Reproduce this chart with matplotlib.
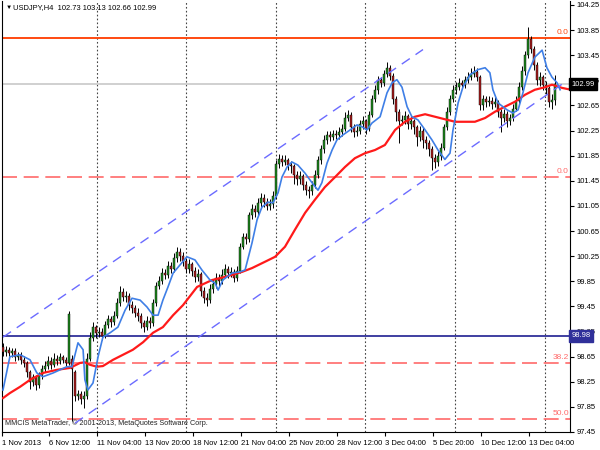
import numpy as np
import matplotlib.pyplot as plt

plt.rcParams['font.family'] = ['Liberation Sans', 'DejaVu Sans']

# USDJPY H4 - one value per bar (bar index = position on the x axis)
opens = [98.80, 98.72, 98.76, 98.70, 98.74, 98.64, 98.68, 98.60, 98.55, 98.40,
         98.25, 98.32, 98.20, 98.35, 98.45, 98.50, 98.58, 98.52, 98.62, 98.58,
         98.64, 98.60, 98.55, 98.62, 98.40, 98.02, 98.05, 97.98, 98.02, 98.62,
         98.95, 99.12, 99.02, 99.05, 98.98, 99.15, 99.25, 99.20, 99.30, 99.50,
         99.68, 99.60, 99.62, 99.48, 99.42, 99.35, 99.30, 99.18, 99.12, 99.22,
         99.18, 99.50, 99.78, 99.85, 99.98, 99.95, 100.10, 100.05, 100.22, 100.32,
         100.25, 100.18, 100.05, 100.12, 100.02, 99.92, 99.96, 99.70, 99.58, 99.55,
         99.72, 99.80, 99.90, 99.85, 99.95, 100.05, 99.98, 100.00, 99.90, 100.02,
         100.40, 100.55, 100.52, 100.90, 101.00, 100.95, 101.10, 101.18, 101.12, 101.05,
         101.08, 101.20, 101.72, 101.80, 101.75, 101.78, 101.70, 101.68, 101.55, 101.48,
         101.52, 101.38, 101.30, 101.28, 101.38, 101.55, 101.78, 101.95, 102.10, 102.18,
         102.15, 102.20, 102.18, 102.22, 102.28, 102.45, 102.50, 102.30, 102.22, 102.25,
         102.35, 102.40, 102.28, 102.50, 102.75, 102.90, 103.05, 103.00, 103.15, 103.25,
         103.12, 102.75, 102.55, 102.40, 102.42, 102.48, 102.35, 102.40, 102.30, 102.15,
         102.25, 102.10, 102.05, 101.95, 101.82, 101.75, 101.85, 101.98, 102.30, 102.55,
         102.75, 102.90, 102.95, 103.00, 102.98, 103.05, 103.10, 103.15, 103.18, 103.10,
         102.65, 102.75, 102.70, 102.72, 102.68, 102.70, 102.55, 102.45, 102.52, 102.40,
         102.45, 102.60, 102.72, 102.95, 103.20, 103.45, 103.70, 103.55, 103.30, 103.05,
         103.10, 102.98, 102.92, 102.70, 102.73]
highs = [98.86, 98.82, 98.80, 98.79, 98.78, 98.73, 98.72, 98.66, 98.58, 98.44,
         98.38, 98.36, 98.40, 98.52, 98.58, 98.66, 98.64, 98.70, 98.68, 98.70,
         98.68, 98.64, 99.37, 98.68, 98.44, 98.12, 98.10, 98.10, 98.70, 99.05,
         99.20, 99.16, 99.12, 99.10, 99.22, 99.32, 99.30, 99.38, 99.58, 99.78,
         99.74, 99.70, 99.66, 99.54, 99.48, 99.42, 99.34, 99.24, 99.30, 99.28,
         99.56, 99.84, 99.94, 100.06, 100.04, 100.18, 100.16, 100.30, 100.40, 100.38,
         100.32, 100.22, 100.20, 100.16, 100.08, 100.04, 100.00, 99.76, 99.66, 99.80,
         99.88, 99.98, 99.96, 100.04, 100.12, 100.10, 100.08, 100.05, 100.10, 100.46,
         100.62, 100.62, 100.96, 101.08, 101.06, 101.18, 101.26, 101.24, 101.18, 101.16,
         101.28, 101.78, 101.88, 101.86, 101.86, 101.82, 101.76, 101.72, 101.60, 101.60,
         101.56, 101.44, 101.36, 101.44, 101.62, 101.84, 102.02, 102.18, 102.24, 102.24,
         102.26, 102.26, 102.30, 102.36, 102.54, 102.58, 102.54, 102.36, 102.32, 102.42,
         102.48, 102.44, 102.56, 102.82, 102.98, 103.12, 103.10, 103.22, 103.34, 103.30,
         103.16, 102.80, 102.60, 102.50, 102.56, 102.52, 102.48, 102.44, 102.34, 102.32,
         102.30, 102.16, 102.10, 102.00, 101.88, 101.92, 102.05, 102.36, 102.62, 102.82,
         102.98, 103.02, 103.08, 103.06, 103.12, 103.18, 103.24, 103.28, 103.24, 103.14,
         102.82, 102.80, 102.80, 102.78, 102.78, 102.74, 102.60, 102.60, 102.56, 102.52,
         102.68, 102.80, 103.02, 103.28, 103.52, 103.90, 103.76, 103.60, 103.34, 103.18,
         103.14, 103.04, 102.96, 102.84, 103.13]
lows = [98.66, 98.66, 98.64, 98.65, 98.58, 98.60, 98.54, 98.48, 98.32, 98.14,
        98.18, 98.12, 98.15, 98.30, 98.40, 98.46, 98.46, 98.48, 98.52, 98.54,
        98.55, 98.50, 98.52, 97.62, 97.95, 97.96, 97.90, 97.84, 97.98, 98.58,
        98.90, 98.94, 98.96, 98.92, 98.94, 99.10, 99.12, 99.16, 99.26, 99.46,
        99.54, 99.52, 99.40, 99.34, 99.28, 99.22, 99.10, 99.04, 99.08, 99.10,
        99.14, 99.46, 99.72, 99.80, 99.88, 99.90, 99.98, 100.00, 100.16, 100.18,
        100.10, 99.98, 99.98, 99.94, 99.84, 99.86, 99.62, 99.50, 99.45, 99.50,
        99.66, 99.74, 99.78, 99.80, 99.90, 99.90, 99.92, 99.84, 99.86, 99.98,
        100.36, 100.44, 100.48, 100.84, 100.88, 100.90, 101.04, 101.04, 100.98, 100.98,
        101.02, 101.16, 101.66, 101.68, 101.70, 101.62, 101.58, 101.40, 101.38, 101.40,
        101.30, 101.22, 101.18, 101.22, 101.34, 101.50, 101.72, 101.90, 102.04, 102.08,
        102.10, 102.12, 102.12, 102.16, 102.24, 102.40, 102.22, 102.14, 102.16, 102.20,
        102.28, 102.20, 102.24, 102.46, 102.70, 102.84, 102.94, 102.96, 103.10, 103.06,
        102.68, 102.40, 102.05, 102.34, 102.36, 102.28, 102.28, 102.20, 102.00, 102.08,
        101.98, 101.95, 101.85, 101.62, 101.66, 101.68, 101.78, 101.94, 102.26, 102.50,
        102.70, 102.84, 102.90, 102.92, 102.92, 103.00, 103.06, 103.10, 103.04, 102.58,
        102.58, 102.62, 102.64, 102.60, 102.62, 102.46, 102.22, 102.38, 102.30, 102.34,
        102.40, 102.56, 102.68, 102.90, 103.14, 103.40, 103.48, 103.22, 102.98, 102.96,
        102.90, 102.84, 102.62, 102.60, 102.66]
closes = [98.72, 98.76, 98.70, 98.74, 98.64, 98.68, 98.60, 98.55, 98.40, 98.25,
          98.32, 98.20, 98.35, 98.45, 98.50, 98.58, 98.52, 98.62, 98.58, 98.64,
          98.60, 98.55, 99.33, 98.45, 98.02, 98.05, 97.98, 98.02, 98.62, 98.95,
          99.12, 99.02, 99.05, 98.98, 99.15, 99.25, 99.20, 99.30, 99.50, 99.68,
          99.60, 99.62, 99.48, 99.42, 99.35, 99.30, 99.18, 99.12, 99.22, 99.18,
          99.50, 99.78, 99.85, 99.98, 99.95, 100.10, 100.05, 100.22, 100.32, 100.25,
          100.18, 100.05, 100.12, 100.02, 99.92, 99.96, 99.70, 99.58, 99.55, 99.72,
          99.80, 99.90, 99.85, 99.95, 100.05, 99.98, 100.00, 99.90, 100.02, 100.40,
          100.55, 100.52, 100.90, 101.00, 100.95, 101.10, 101.18, 101.12, 101.05, 101.08,
          101.20, 101.72, 101.80, 101.75, 101.78, 101.70, 101.68, 101.55, 101.48, 101.52,
          101.38, 101.30, 101.28, 101.38, 101.55, 101.78, 101.95, 102.10, 102.18, 102.15,
          102.20, 102.18, 102.22, 102.28, 102.45, 102.50, 102.30, 102.22, 102.25, 102.35,
          102.40, 102.28, 102.50, 102.75, 102.90, 103.05, 103.00, 103.15, 103.25, 103.12,
          102.75, 102.55, 102.40, 102.42, 102.48, 102.35, 102.40, 102.30, 102.15, 102.25,
          102.10, 102.05, 101.95, 101.82, 101.75, 101.85, 101.98, 102.30, 102.55, 102.75,
          102.90, 102.95, 103.00, 102.98, 103.05, 103.10, 103.15, 103.18, 103.10, 102.65,
          102.75, 102.70, 102.72, 102.68, 102.70, 102.55, 102.45, 102.52, 102.40, 102.45,
          102.60, 102.72, 102.95, 103.20, 103.45, 103.70, 103.55, 103.30, 103.05, 103.10,
          102.98, 102.92, 102.70, 102.73, 102.99]

# fast moving average (blue): bar position, price
fast_pos = [0, 2.3, 5.7, 9, 11.3, 13.3, 16.7, 21.3, 23, 25, 26.7, 27.3, 28.3, 30, 31.7,
            33.3, 35.7, 38.3, 40.7, 43, 45.7, 48, 50, 51.7, 53.3, 55, 56.7, 59, 61.3, 64,
            66.3, 69, 70.7, 71.7, 73.3, 76.3, 79, 80.7, 83, 84.7, 86.3, 88.3, 90, 91.7, 93,
            94.7, 96.3, 98.3, 100.7, 103, 105, 106.3, 108, 109.7, 111.3, 113.3, 115.7, 118,
            119.7, 121.3, 123, 125.7, 128, 129.7, 131.3, 133, 134.7, 136.3, 138.3, 140.7,
            143, 145, 147.3, 149, 150, 151.7, 153.3, 155.7, 158.3, 160.7, 162.3, 163.3, 165,
            168, 170, 171.7, 173.3, 175, 177.3, 179.7, 181.3, 183, 184.7, 185.7]
fast_ma = [98.12, 98.65, 98.68, 98.60, 98.39, 98.33, 98.39, 98.49, 98.49, 98.87, 98.76,
           98.28, 98.12, 98.23, 98.65, 98.96, 99.03, 99.12, 99.39, 99.58, 99.55, 99.44,
           99.31, 99.31, 99.55, 99.76, 99.98, 100.11, 100.24, 100.19, 100.03, 99.87, 99.82,
           99.71, 99.87, 99.98, 100.00, 100.03, 100.46, 100.83, 101.03, 101.11, 101.10,
           101.26, 101.51, 101.67, 101.75, 101.70, 101.57, 101.42, 101.30, 101.42, 101.73,
           101.94, 102.10, 102.18, 102.26, 102.34, 102.31, 102.26, 102.37, 102.47, 102.85,
           103.01, 103.06, 102.94, 102.63, 102.47, 102.42, 102.26, 102.10, 101.94, 101.79,
           101.89, 102.26, 102.69, 102.94, 103.14, 103.22, 103.25, 103.17, 102.90, 102.69,
           102.58, 102.53, 102.58, 102.85, 103.17, 103.42, 103.53, 103.25, 103.10, 103.01,
           102.90]

# slow moving average (red)
slow_pos = [0, 2.3, 5.7, 9, 13.3, 18, 22.3, 25.7, 27.3, 29, 31.3, 33.3, 36.7, 40, 43.3,
            46.7, 50, 53.3, 56.7, 60, 64.7, 69.7, 74, 79.7, 83, 87.3, 90.7, 94, 97.3, 100.7,
            104, 107.3, 110.7, 114, 117.3, 120.7, 124, 127.3, 130.7, 134, 137.3, 140.7, 144,
            147.3, 150.7, 154, 157.3, 160.7, 164, 167.3, 170.7, 174, 177.3, 180.7, 183,
            186.3, 188.3]
slow_ma = [97.99, 98.07, 98.17, 98.28, 98.39, 98.44, 98.47, 98.55, 98.56, 98.52, 98.49,
           98.50, 98.60, 98.68, 98.76, 98.88, 99.03, 99.12, 99.31, 99.47, 99.76, 99.87,
           99.92, 100.00, 100.06, 100.16, 100.24, 100.40, 100.67, 100.94, 101.15, 101.35,
           101.51, 101.67, 101.81, 101.89, 101.94, 102.02, 102.26, 102.39, 102.47, 102.51,
           102.47, 102.43, 102.39, 102.39, 102.39, 102.45, 102.55, 102.63, 102.71, 102.82,
           102.90, 102.94, 102.98, 102.93, 102.91]

# trend channel anchors (bar position, price)
upper_channel = ([0, 140], [98.96, 103.54])
lower_channel = ([24, 187.3], [97.59, 103.02])

# horizontal levels
high_level = 103.72
fib_levels = [101.51, 98.55, 97.66]
fib_labels = ['0.0', '38.2', '50.0']
support_level = 98.98
last_price = 102.99

# time axis
tick_pos = [-0.33, 15.3, 31.3, 47.3, 63.3, 79.3, 95.3, 111.3, 127.3, 143.3, 159.3, 175.3]
tick_labels = ['1 Nov 2013', '6 Nov 12:00', '11 Nov 04:00', '13 Nov 20:00', '18 Nov 12:00',
               '21 Nov 04:00', '25 Nov 20:00', '28 Nov 12:00', '3 Dec 04:00', '5 Dec 20:00',
               '10 Dec 12:00', '13 Dec 04:00']
week_lines = [31.3, 61, 91, 120.7, 150.7, 180.7]
price_ticks = [97.45 + 0.4 * k for k in range(18)]

fs = 5.5
fig = plt.figure(figsize=(6, 4.5), dpi=100)
ax = fig.add_axes([2 / 600, 18 / 450, 568 / 600, 431 / 450])
ax.set_xlim(-0.33, 189)
ax.set_ylim(97.45, 104.313)

o = np.array(opens)
h = np.array(highs)
l = np.array(lows)
c = np.array(closes)
x = np.arange(len(c))

for xv in week_lines:
    ax.axvline(xv, color='#444444', lw=0.8, ls=(0, (1.5, 2)), zorder=1)

# levels
ax.axhline(last_price, color='#c8c8c8', lw=1.2, zorder=1)
ax.axhline(high_level, color='#ff4a10', lw=1.4, zorder=2)
for lv in fib_levels:
    ax.axhline(lv, color='#ff6a6a', lw=1.2, ls=(0, (9, 4)), zorder=2)
ax.axhline(support_level, color='#30309a', lw=1.3, zorder=2)

# candles
up = c >= o
ax.vlines(x, l, h, color='black', lw=0.7, zorder=3)
ax.bar(x, c - o, bottom=o, width=0.85, color=np.where(up, '#1f8a1f', '#a81c1c'),
       edgecolor='black', linewidth=0.3, zorder=4)

# indicators
ax.plot(slow_pos, slow_ma, color='#ff1a1a', lw=1.6, zorder=5)
ax.plot(fast_pos, fast_ma, color='#3f7fe6', lw=1.2, zorder=5)
ax.plot(*upper_channel, color='#6b6bff', lw=1.0, ls=(0, (7, 5)), zorder=5)
ax.plot(*lower_channel, color='#6b6bff', lw=1.0, ls=(0, (7, 5)), zorder=5)

# level labels
ax.text(188.6, high_level + 0.03, '0.0', color='#ff4a10', fontsize=fs + 0.5,
        ha='right', va='bottom')
for lv, lab in zip(fib_levels, fib_labels):
    ax.text(188.6, lv + 0.03, lab, color='#ff6a6a', fontsize=fs + 0.5, ha='right', va='bottom')

# axes styling
ax.spines['top'].set_visible(False)
for side in ['left', 'right', 'bottom']:
    ax.spines[side].set_linewidth(0.8)
ax.yaxis.tick_right()
ax.set_yticks(price_ticks)
ax.set_yticklabels(['%.2f' % v for v in price_ticks])
ax.set_xticks(tick_pos)
ax.set_xticklabels(tick_labels, ha='left')
ax.tick_params(axis='both', labelsize=fs, length=3, width=0.8, direction='out', pad=1.5)
ax.tick_params(axis='x', pad=2.5)

# price boxes on the axis
tr = ax.get_yaxis_transform()
ax.text(1.002, last_price, '%.2f' % last_price, transform=tr, fontsize=fs, color='white',
        va='center', ha='left', zorder=10,
        bbox=dict(boxstyle='square,pad=0.3', fc='black', ec='black'))
ax.text(1.002, support_level, '%.2f' % support_level, transform=tr, fontsize=fs, color='white',
        va='center', ha='left', zorder=10,
        bbox=dict(boxstyle='square,pad=0.3', fc='#30309a', ec='#30309a'))

# header and footer
ax.text(0.006, 0.992, '\u25bc', transform=ax.transAxes, fontsize=4.5, va='top', ha='left')
ax.text(0.02, 0.993, 'USDJPY,H4  102.73 103.13 102.66 102.99', transform=ax.transAxes,
        fontsize=5.4, va='top', ha='left')
ax.text(0.006, 0.012, 'MMCIS MetaTrader, \u00a9 2001-2013, MetaQuotes Software Corp.',
        transform=ax.transAxes, fontsize=5.2, va='bottom', ha='left', color='#222222')

fig.savefig('out.png', dpi=100)
